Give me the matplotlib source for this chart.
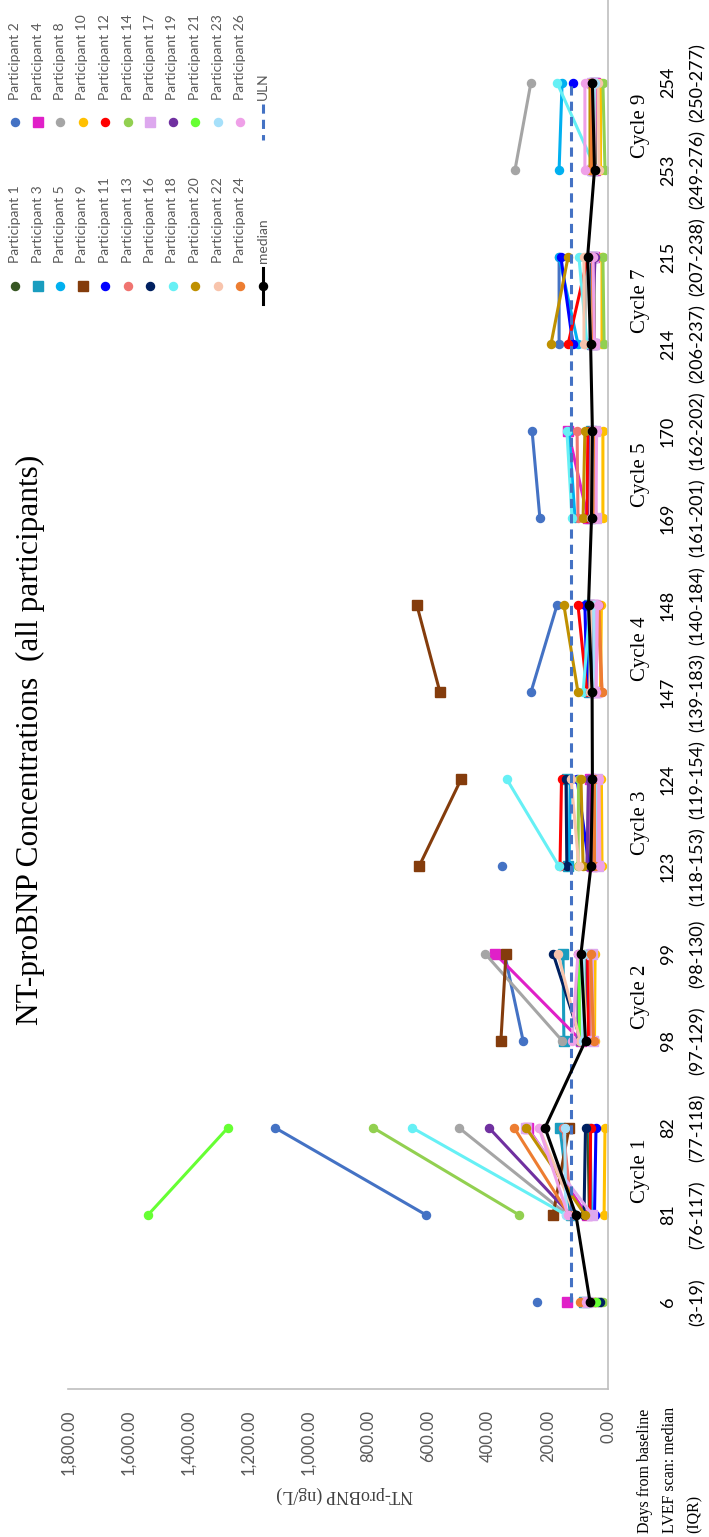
import numpy as np
import matplotlib
matplotlib.use('Agg')
import matplotlib.pyplot as plt
from matplotlib.lines import Line2D
from matplotlib import transforms

nan = np.nan

# categories (days from baseline LVEF scan)
days = ['6', '81', '82', '98', '99', '123', '124', '147', '148', '169', '170', '214', '215', '253', '254']
iqr = ['(3-19)', '(76-117)', '(77-118)', '(97-129)', '(98-130)', '(118-153)', '(119-154)',
       '(139-183)', '(140-184)', '(161-201)', '(162-202)', '(206-237)', '(207-238)',
       '(249-276)', '(250-277)']
cycles = ['Cycle 1', 'Cycle 2', 'Cycle 3', 'Cycle 4', 'Cycle 5', 'Cycle 7', 'Cycle 9']

# NT-proBNP values (ng/L) per participant, one value per category
p1 = [22, 62, 67, 55, 60, 58, 55, 50, 52, 48, 50, 45, 48, 42, 45]
p2 = [237, 607, 1110, 283, 345, 353, nan, 257, 170, 227, 253, 163, 163, nan, nan]
p3 = [80, 125, 160, 147, 150, 135, 138, 65, 62, 60, 58, 55, 52, 50, 48]
p4 = [137, 70, 268, 90, 377, 55, 60, 45, 50, 67, 133, 50, 48, 45, 42]
p5 = [65, 55, 60, 60, 75, 130, 125, 70, 62, 110, 130, 100, 163, 163, 153]
p8 = [55, 135, 497, 153, 410, 70, 65, 60, 55, 65, 60, 77, 75, 310, 257]
p9 = [nan, 183, 130, 357, 340, 630, 490, 560, 637, nan, nan, nan, nan, nan, nan]
p10 = [35, 13, 10, 45, 43, 20, 22, 25, 22, 17, 17, 20, 20, 25, 25]
p11 = [35, 45, 40, 62, 70, 63, 103, 70, 77, 60, 55, 117, 157, nan, 117]
p12 = [45, 60, 58, 65, 68, 160, 155, 70, 100, 70, 67, 133, 67, 50, 52]
p13 = [85, 120, 150, 55, 60, 50, 45, 20, 35, 100, 103, 50, 48, 45, 45]
p14 = [18, 297, 783, 97, 95, 100, 98, 50, 48, 45, 45, 13, 17, 10, 17]
p16 = [28, 80, 75, 90, 183, 137, 140, 55, 50, 52, 50, 60, 55, 50, 50]
p17 = [70, 52, 273, 50, 52, 35, 38, 40, 42, 40, 45, 48, 50, 55, 52]
p18 = [60, 140, 653, 100, 95, 163, 337, 83, 60, 120, 137, 70, 97, 40, 170]
p19 = [50, 125, 397, 100, 100, 70, 65, 60, 58, 60, 58, 55, 43, 58, 55]
p20 = [45, 77, 273, 80, 80, 83, 90, 100, 147, 83, 77, 190, 133, 60, 60]
p21 = [40, 1533, 1267, 95, 98, nan, nan, nan, nan, nan, nan, nan, nan, nan, nan]
p22 = [90, 110, 230, 93, 167, 97, 123, 60, 55, 58, 55, 80, 80, 30, 33]
p23 = [60, 140, 145, 85, 80, 45, 40, 45, 48, 50, 52, 55, 52, 48, 45]
p24 = [95, 130, 313, 48, 58, 45, 45, 20, 30, 45, 42, 50, 52, 55, 55]
p26 = [75, 133, 230, 120, 100, 27, 30, 40, 35, 40, 38, 45, 50, 77, 77]
median = [60, 107, 210, 75, 90, 57, 52, 53, 65, 55, 52, 58, 68, 45, 52]
uln = 125

labels = ['Participant 1', 'Participant 2', 'Participant 3', 'Participant 4', 'Participant 5',
          'Participant 8', 'Participant 9', 'Participant 10', 'Participant 11', 'Participant 12',
          'Participant 13', 'Participant 14', 'Participant 16', 'Participant 17', 'Participant 18',
          'Participant 19', 'Participant 20', 'Participant 21', 'Participant 22', 'Participant 23',
          'Participant 24', 'Participant 26']
values = [p1, p2, p3, p4, p5, p8, p9, p10, p11, p12, p13, p14, p16, p17, p18,
          p19, p20, p21, p22, p23, p24, p26]
colors = ['#375623', '#4472C4', '#1A9DBF', '#E020C8', '#00B0F0', '#A5A5A5', '#843C0C',
          '#FFC000', '#0000FF', '#FF0000', '#F07470', '#92D050', '#002060', '#DDA8EE',
          '#66F0F5', '#7030A0', '#BF9000', '#66FF33', '#F8C4AC', '#A6E0FA', '#ED7D31',
          '#EFA0E8']
square = {'Participant 3', 'Participant 4', 'Participant 9', 'Participant 17'}

# points joined only inside each cycle
groups = [[0], [1, 2], [3, 4], [5, 6], [7, 8], [9, 10], [11, 12], [13, 14]]

W, H = 709, 1537
SERIF = 'Liberation Serif'
SANS = 'Lato'


def fx(x):
    return x / W


def fy(y):
    return 1 - y / H


def broken(vals):
    xs, ys = [], []
    for g in groups:
        for k in g:
            xs.append(vals[k])
            ys.append(k)
        xs.append(nan)
        ys.append(nan)
    return xs, ys


fig = plt.figure(figsize=(W / 100, H / 100), dpi=100)
ax = fig.add_axes([fx(68), fy(1389), fx(608) - fx(68), 1 - fy(1389)])

for i, (lab, vals, col) in enumerate(zip(labels, values, colors)):
    xs, ys = broken(vals)
    if lab in square:
        ax.plot(xs, ys, color=col, lw=2.2, marker='s', ms=7.5, zorder=2 + i * 0.01)
    else:
        ax.plot(xs, ys, color=col, lw=2.2, marker='o', ms=5.8, zorder=2 + i * 0.01)

ax.plot([uln] * len(days), range(len(days)), color='#4472C4', lw=2.2, dashes=(3, 2), zorder=3)
ax.plot(median, range(len(days)), color='black', lw=2.2, marker='o', ms=6, zorder=4)

ax.set_xlim(1800, 0)
ax.set_ylim(-1, 14.95)
ax.set_yticks([])
ax.set_xticks(range(0, 1801, 200))
ax.set_xticklabels([f'{v:,.2f}' for v in range(0, 1801, 200)])
ax.tick_params(axis='x', length=0, pad=15, labelrotation=90, labelsize=12, labelcolor='#595959')
for t in ax.get_xticklabels():
    t.set_fontfamily(SANS)
for s in ['top', 'left']:
    ax.spines[s].set_visible(False)
for s in ['bottom', 'right']:
    ax.spines[s].set_color('#BFBFBF')
    ax.spines[s].set_linewidth(1.2)

# category labels (rotated chart)
tr = transforms.blended_transform_factory(fig.transFigure, ax.transData)
for k in range(len(days)):
    ax.text(fx(668), k, days[k], transform=tr, rotation=90, rotation_mode='anchor',
            ha='center', va='center', fontsize=13, fontfamily=SANS, clip_on=False)
    ax.text(fx(698), k, iqr[k], transform=tr, rotation=90, rotation_mode='anchor',
            ha='center', va='center', fontsize=13, fontfamily=SANS, clip_on=False)
for j, c in enumerate(cycles):
    ax.text(fx(641), 1.5 + 2 * j, c, transform=tr, rotation=90, rotation_mode='anchor',
            ha='center', va='center', fontsize=15, fontfamily=SERIF, clip_on=False)

for x, s in zip([645, 670, 695], ['Days from baseline', 'LVEF scan: median', '(IQR)']):
    fig.text(fx(x), fy(1533), s, rotation=90, rotation_mode='anchor', ha='left', va='center',
             fontsize=11.5, fontfamily=SERIF)

fig.text(fx(345), fy(1495), 'NT-proBNP (ng/L)', rotation=180, rotation_mode='anchor',
         ha='center', va='center', fontsize=13, fontfamily=SERIF, color='#404040')

fig.text(fx(30), fy(740), 'NT-proBNP Concentrations  (all participants)', rotation=90,
         rotation_mode='anchor', ha='center', va='center', fontsize=22.5, fontfamily=SERIF)

# legend, drawn by hand in rotated layout
entries = []
for lab, col in zip(labels, colors):
    entries.append((lab, col, 's' if lab in square else 'o', None))
entries.append(('median', 'black', 'o', '-'))
entries.append(('ULN', '#4472C4', None, '--'))

for n, (lab, col, mk, ls) in enumerate(entries):
    colx = 15 + 22.5 * (n // 2)
    upper = n % 2 == 1
    my = 122 if upper else 286
    ty = 100 if upper else 263
    if ls is not None:
        ln = Line2D([fx(colx), fx(colx)], [fy(my - 18), fy(my + 18)], color=col, lw=2.2,
                    transform=fig.transFigure)
        if ls == '--':
            ln.set_dashes((3, 2))
        fig.add_artist(ln)
    if mk is not None:
        fig.add_artist(Line2D([fx(colx)], [fy(my)], marker=mk, color=col, ls='none',
                              ms=7.5 if mk == 's' else 5.8, transform=fig.transFigure))
    fig.text(fx(colx), fy(ty), lab, rotation=90, rotation_mode='anchor', ha='left',
             va='center', fontsize=10, fontfamily=SANS, color='#595959')

fig.savefig('out.png', dpi=100)
